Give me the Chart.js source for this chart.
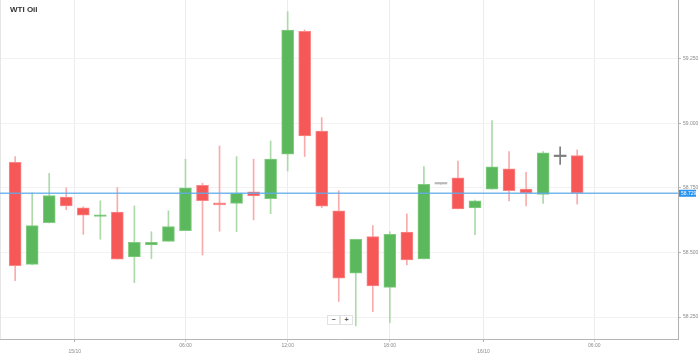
<!DOCTYPE html>
<html><head><meta charset="utf-8">
<script src="https://cdn.jsdelivr.net/npm/chart.js@4.4.0/dist/chart.umd.min.js"></script>
<style>
html,body{margin:0;padding:0;background:#fff;}
#wrap{position:relative;width:699px;height:357px;overflow:hidden;}
#title{position:absolute;left:10px;top:5px;font:bold 8px "Liberation Sans",Arial,sans-serif;color:#333;}
#zoom{position:absolute;left:327px;top:315px;display:flex;}
#zoom span{display:block;width:11px;height:8px;border:1px solid #e2e2e2;background:#fff;font:bold 7px/8px "Liberation Sans",Arial,sans-serif;text-align:center;color:#555;}
</style></head><body>
<div id="wrap"><canvas id="c" width="699" height="357"></canvas><div id="title">WTI Oil</div><div id="zoom"><span>−</span><span>+</span></div></div>
<script>
// Candle data (hourly)
const openV  = [58.849,58.454,58.615,58.714,58.673,58.639,58.656,58.483,58.529,58.543,58.584,58.760,58.692,58.690,58.735,58.708,58.880,59.356,58.970,58.661,58.420,58.561,58.365,58.579,58.475,58.765,58.789,58.672,58.745,58.824,58.745,58.725,58.871,58.875];
const highV  = [58.871,58.731,58.806,58.750,58.677,58.700,58.751,58.680,58.580,58.661,58.861,58.768,58.912,58.871,58.861,58.931,59.432,59.361,59.022,58.739,58.551,58.604,58.580,58.649,58.832,58.765,58.854,58.703,59.010,58.890,58.810,58.890,58.909,58.897];
const lowV   = [58.391,58.452,58.614,58.665,58.570,58.551,58.474,58.383,58.476,58.543,58.584,58.490,58.582,58.580,58.626,58.650,58.815,58.871,58.673,58.310,58.216,58.271,58.228,58.452,58.475,58.765,58.668,58.569,58.745,58.699,58.680,58.690,58.841,58.687];
const closeV = [58.449,58.604,58.720,58.680,58.644,58.646,58.474,58.539,58.539,58.600,58.750,58.700,58.684,58.730,58.719,58.861,59.361,58.951,58.679,58.400,58.551,58.370,58.570,58.471,58.764,58.765,58.668,58.700,58.831,58.739,58.730,58.886,58.871,58.730];
const currentPrice = 58.729;
// x tick positions (in candle-index units) and their labels
const xTickPos    = [3.5, 10, 16, 22, 27.5, 34];
const xTickLabels = ['15/10','06:00','12:00','18:00','16/10','06:00'];
const xTickIsDate = [true,false,false,false,true,false];
const yTickValues = [58.25, 58.5, 58.75, 59.0, 59.25];

const idx = openV.map((_, i) => i);
const UP = 'rgb(92,184,92)', DOWN = 'rgb(246,88,88)', FLAT = 'rgb(150,150,150)';
const UPB = 'rgb(130,204,130)', DOWNB = 'rgb(250,135,135)';
const UPW = 'rgb(172,218,168)', DOWNW = 'rgb(249,172,172)', FLATW = 'rgb(125,125,125)';
function dir(i){ if (i == null) return 0; return closeV[i] > openV[i] ? 1 : (closeV[i] < openV[i] ? -1 : 0); }

const pricePlugin = {
  id: 'priceLine',
  beforeDatasetsDraw(chart){
    const {ctx, chartArea} = chart;
    ctx.save();
    ctx.strokeStyle = '#e6e6e6'; ctx.lineWidth = 1;
    ctx.beginPath(); ctx.moveTo(chartArea.left + 0.5, chartArea.top); ctx.lineTo(chartArea.left + 0.5, chartArea.bottom); ctx.stroke();
    ctx.restore();
  },
  afterDatasetsDraw(chart){
    const {ctx, chartArea, scales:{y}} = chart;
    const py = y.getPixelForValue(currentPrice);
    ctx.save();
    ctx.strokeStyle = 'rgba(95,172,235,0.85)'; ctx.lineWidth = 1.6;
    ctx.beginPath(); ctx.moveTo(chartArea.left, py); ctx.lineTo(chartArea.right, py); ctx.stroke();
    ctx.restore();
  },
  afterDraw(chart){
    const {ctx, chartArea, scales:{y}} = chart;
    const py = y.getPixelForValue(currentPrice);
    ctx.save();
    ctx.fillStyle = 'rgb(40,148,238)';
    ctx.fillRect(chartArea.right + 1, py - 3.5, 17, 7);
    ctx.fillStyle = '#fff'; ctx.font = '5px "Liberation Sans", Arial, sans-serif';
    ctx.textBaseline = 'middle'; ctx.textAlign = 'left';
    ctx.fillText(currentPrice.toFixed(3), chartArea.right + 3, py + 0.5);
    ctx.restore();
  }
};

new Chart(document.getElementById('c'), {
  type: 'bar',
  data: {
    datasets: [
      {
        label: 'body',
        data: idx.map(i => ({x: i, y: [openV[i], closeV[i]]})),
        grouped: false, order: 1,
        barThickness: 12, minBarLength: 1.5,
        borderSkipped: false,
        borderWidth: c => dir(c.dataIndex) === 0 ? 0 : 1,
        backgroundColor: c => { const d = dir(c.dataIndex); return d > 0 ? UP : d < 0 ? DOWN : (highV[c.dataIndex] > lowV[c.dataIndex] ? FLATW : 'rgb(185,185,185)'); },
        borderColor: c => { const d = dir(c.dataIndex); return d > 0 ? UPB : d < 0 ? DOWNB : FLAT; }
      },
      {
        label: 'wick',
        data: idx.map(i => ({x: i, y: [lowV[i], highV[i]]})),
        grouped: false, order: 2,
        barThickness: 1, borderWidth: 0,
        backgroundColor: c => { const d = dir(c.dataIndex); return d > 0 ? UPW : d < 0 ? DOWNW : FLATW; }
      }
    ]
  },
  options: {
    responsive: false, animation: false,
    events: [],
    layout: {padding: 0},
    plugins: {legend: {display: false}, tooltip: {enabled: false}},
    scales: {
      x: {
        type: 'linear', min: -0.89, max: 38.92, offset: false,
        grid: {offset: false, color: '#ececec', tickLength: 3, tickColor: c => (xTickIsDate[c.index] ? '#aaa' : '#d0d0d0')},
        border: {display: true, color: '#b5b5b5'},
        afterBuildTicks: s => { s.ticks = xTickPos.map(v => ({value: v})); },
        afterFit: s => { s.height = 18; s.paddingLeft = 0; s.paddingRight = 0; },
        ticks: {
          autoSkip: false, maxRotation: 0, minRotation: 0, padding: 1,
          color: '#8a8a8a', font: {size: 5, family: '"Liberation Sans", Arial, sans-serif'},
          callback: (v, i) => xTickIsDate[i] ? ['', xTickLabels[i]] : xTickLabels[i]
        }
      },
      y: {
        position: 'right', min: 58.165, max: 59.477,
        grid: {color: '#f2f2f2', tickLength: 3, tickColor: '#bbb'},
        border: {display: true, color: '#b0b0b0'},
        afterBuildTicks: s => { s.ticks = yTickValues.map(v => ({value: v})); },
        afterFit: s => { s.width = 21; s.paddingTop = 0; s.paddingBottom = 0; },
        ticks: {
          padding: 2, color: '#8a8a8a', font: {size: 5, family: '"Liberation Sans", Arial, sans-serif'},
          callback: v => Number(v).toFixed(3)
        }
      }
    }
  },
  plugins: [pricePlugin]
});
</script>
</body></html>
